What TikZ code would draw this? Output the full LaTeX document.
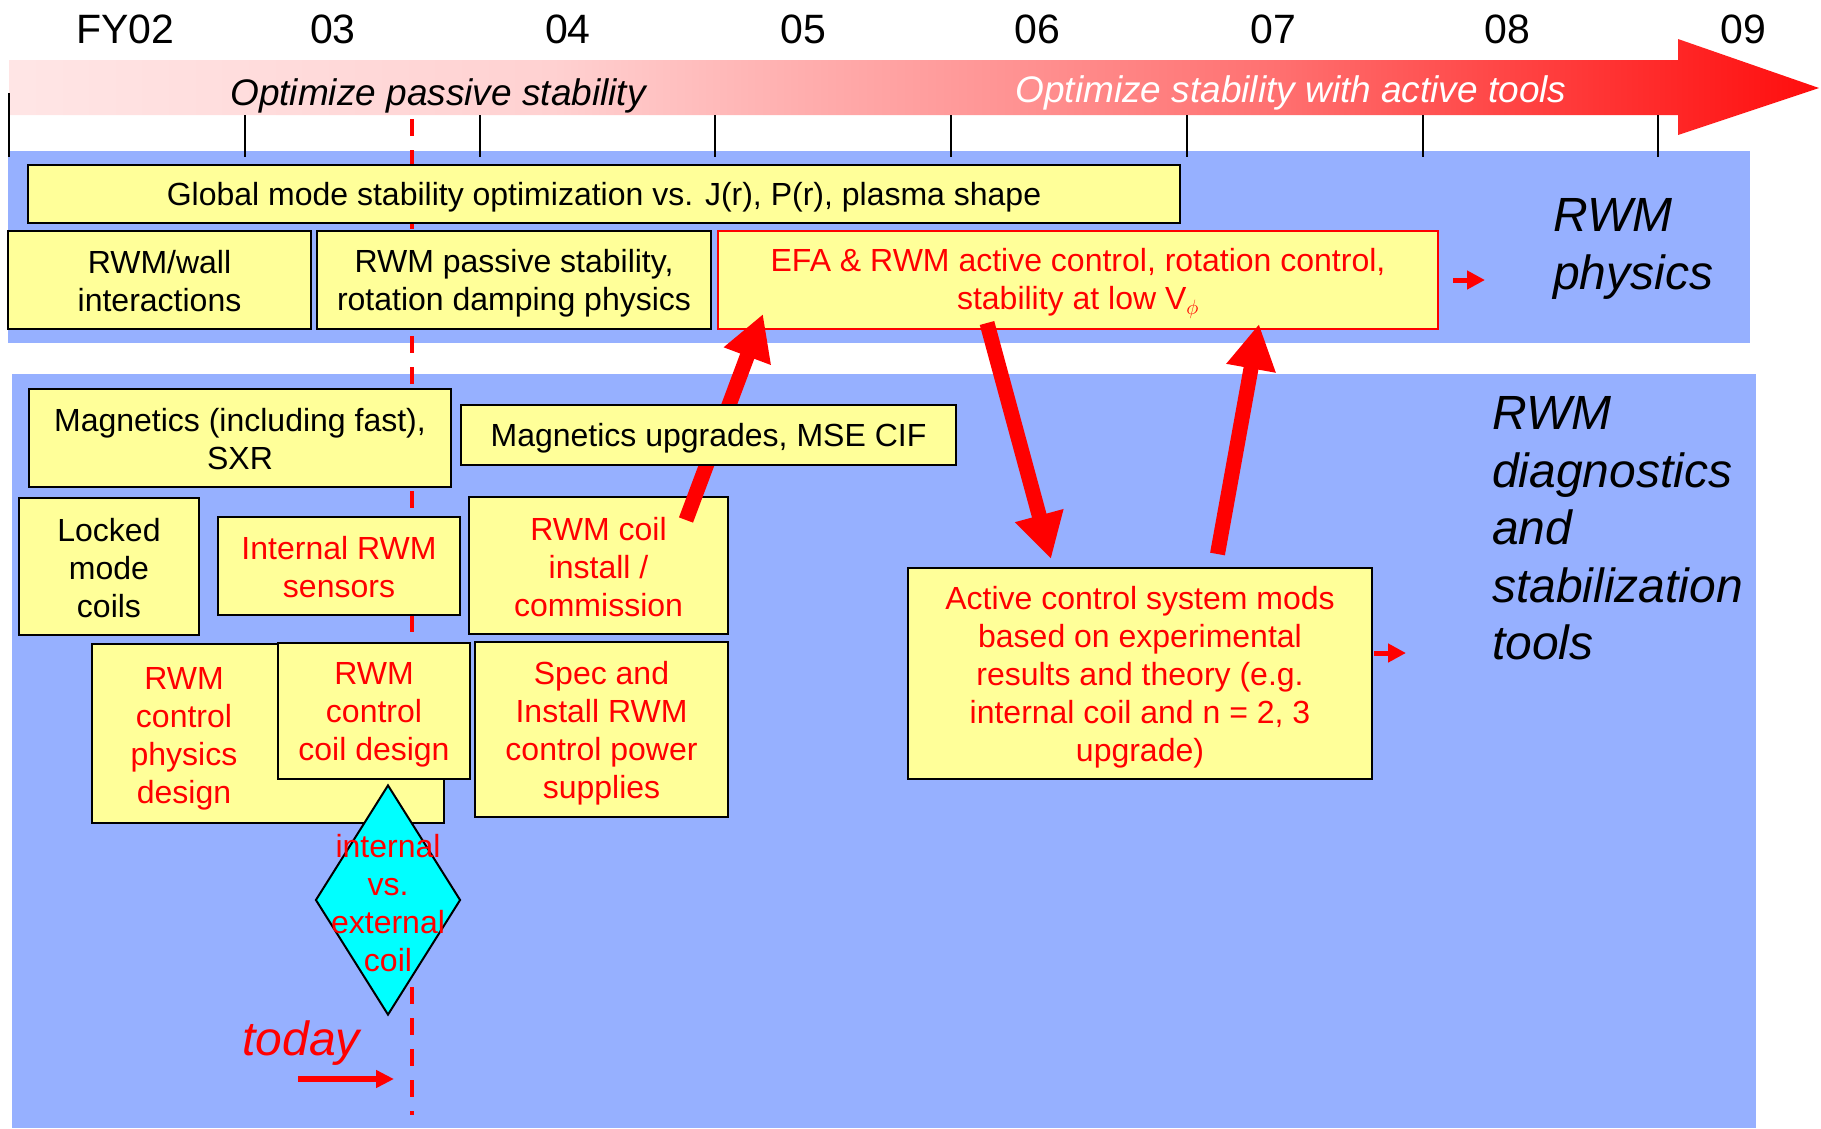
\documentclass[tikz,border=0pt]{standalone}
\usepackage{fontspec}
\setmainfont{Liberation Sans}
\usetikzlibrary{arrows.meta,shapes.geometric}
\definecolor{panelblue}{RGB}{150,176,255}
\definecolor{boxyellow}{RGB}{255,255,153}
\definecolor{decisioncyan}{RGB}{0,255,255}
\pgfdeclarehorizontalshading{bandshade}{100bp}{color(0bp)=(red!10); color(25bp)=(red!10); color(40bp)=(red!18); color(47bp)=(red!32); color(60bp)=(red!56); color(66bp)=(red!72); color(75bp)=(red!95); color(100bp)=(red!95)}
\newcommand\topstrut{\rule{0pt}{30pt}}
\newcommand\botstrut{\rule[-5pt]{0pt}{5pt}}
\begin{document}
\begin{tikzpicture}[x=1pt,y=-1pt,
    boxtext/.style={inner sep=0pt,align=center,font=\fontsize{32}{38}\selectfont},
    box/.style={boxtext,draw,line width=2pt,fill=boxyellow},
    redbox/.style={box,text=red},
    redtxt/.style={boxtext,text=red},
    bigarrow/.style={red,line width=15pt,-{Triangle[length=45pt,width=47pt]}},
    smallarrow/.style={red,line width=5pt,-{Triangle[length=18pt,width=18pt]}},
    side/.style={inner sep=0pt,align=left,font=\fontsize{48}{57.5}\selectfont\itshape}]
  \useasboundingbox (0,0) rectangle (1821,1128);
  \fill[panelblue] (8,151) rectangle (1750,343);
  \fill[panelblue] (12,374) rectangle (1756,1128);
  \shade[shading=bandshade] (9,60) -- (1678,60) -- (1678,39) -- (1819,88) -- (1678,135) -- (1678,115) -- (9,115) -- cycle;
  \foreach \yr/\xx in {FY02/125,03/333,04/568,05/803,06/1037,07/1273,08/1507,09/1743}
    \node[anchor=base,inner sep=0pt,font=\fontsize{41}{49}\selectfont] (y\yr) at (\xx,43) {\yr};
  \node[anchor=base,inner sep=0pt,font=\fontsize{37}{44}\selectfont\itshape] (passive) at (438,105) {Optimize passive stability};
  \node[anchor=base,inner sep=0pt,text=white,font=\fontsize{37}{44}\selectfont\itshape] (active) at (1291,102) {Optimize stability with active tools};
  \draw[line width=1.5pt] (9,93) -- (9,157);
  \foreach \t in {245,480,715,951,1187,1423,1658}
    \draw[line width=1.5pt] (\t,115) -- (\t,157);
  \coordinate (nowtop) at (412,119);
  \coordinate (nowbot) at (412,1115);
  \draw[red,line width=4pt,dash pattern=on 17pt off 14pt] (nowtop) -- (nowbot);

  \node[box,minimum width=1152pt,minimum height=58pt] (glob) at (604,194) {\topstrut Global mode stability optimization vs. J(r), P(r), plasma shape\botstrut};
  \node[box,minimum width=303pt,minimum height=98pt] (wall) at (159.5,280) {\topstrut RWM/wall\\interactions\botstrut};
  \node[box,minimum width=394pt,minimum height=98pt] (pass) at (514,280) {\topstrut RWM passive stability,\\rotation damping physics\botstrut};
  \node[redbox,draw=red,minimum width=720pt,minimum height=98pt] (efa) at (1078,280) {\topstrut EFA \& RWM active control, rotation control,\\stability at low V$_\phi$\botstrut};
  \node[box,minimum width=422pt,minimum height=98pt] (mag) at (240,438) {\topstrut Magnetics (including fast),\\SXR\botstrut};
  \node[box,minimum width=180pt,minimum height=137pt] (lock) at (109,566.5) {\topstrut Locked\\mode\\coils\botstrut};
  \node[redbox,minimum width=242pt,minimum height=98pt] (sens) at (339,566) {\topstrut Internal RWM\\sensors\botstrut};
  \node[redbox,minimum width=259pt,minimum height=137pt] (coil) at (598.5,565.5) {\topstrut RWM coil\\install /\\commission\botstrut};
  \node[redbox,minimum width=352pt,minimum height=179pt] (phys) at (268,733.5) {};
  \node[redtxt] (phystext) at (184,735) {\topstrut RWM\\control\\physics\\design\botstrut};
  \node[redbox,minimum width=192pt,minimum height=136pt] (cdes) at (374,711) {\topstrut RWM\\control\\coil design\botstrut};
  \node[redbox,minimum width=253pt,minimum height=175pt] (spec) at (601.5,729.5) {\topstrut Spec and\\Install RWM\\control power\\supplies\botstrut};
  \node[redbox,minimum width=464pt,minimum height=211pt] (act) at (1140,673.5) {\topstrut Active control system mods\\based on experimental\\results and theory (e.g.\\internal coil and n = 2, 3\\upgrade)\botstrut};
  \node[draw,line width=2pt,fill=decisioncyan,shape=diamond,minimum width=145pt,minimum height=230pt,inner sep=0pt] (choice) at (388,900) {};
  \node[redtxt] (choicetext) at (388,902) {\topstrut internal\\vs.\\external\\coil\botstrut};

  \draw[bigarrow] ([shift={(-43,24)}]coil.north east) -- ([shift={(46,-16)}]efa.south west);
  \node[box,minimum width=495pt,minimum height=60pt] (magup) at (708.5,435) {\topstrut Magnetics upgrades, MSE CIF\botstrut};
  \draw[bigarrow] ([shift={(270,-7)}]efa.south west) -- ([shift={(144,-8)}]act.north west);
  \draw[bigarrow] ([shift={(310.5,-13)}]act.north west) -- ([shift={(542,-6)}]efa.south west);
  \draw[smallarrow] ([xshift=14pt]efa.east) -- ++(32,0);
  \draw[smallarrow] ([shift={(1,-20.5)}]act.east) -- ++(32,0);

  \node[side,anchor=north west] (physlbl) at (1553,198.6) {RWM\\physics};
  \node[side,anchor=north west] (toollbl) at (1492,396.6) {RWM\\diagnostics\\and\\stabilization\\tools};
  \node[anchor=base,inner sep=0pt,text=red,font=\fontsize{48}{57}\selectfont\itshape] (today) at (301,1055) {today};
  \coordinate (todaytail) at (298,1079);
  \draw[red,line width=6pt,-{Triangle[length=18pt,width=17pt]}] (todaytail) -- ++(96,0);
\end{tikzpicture}
\end{document}
